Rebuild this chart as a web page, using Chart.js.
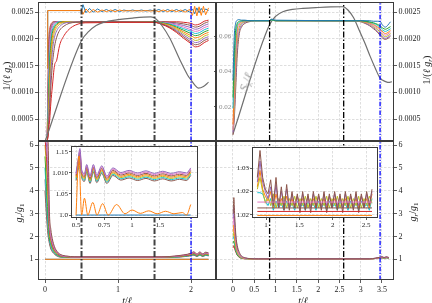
<!DOCTYPE html>
<html lang="en">
<head>
<meta charset="UTF-8">
<title>1/(l g_r) and g_r/g_1 versus t/l</title>
<script src="https://cdn.jsdelivr.net/npm/chart.js"></script>
<style>
    body { margin: 0; background: #fff; }
    #fig { position: relative; width: 432px; height: 303px; overflow: hidden; font-family: "Liberation Serif", serif; color: #222; }
    #fig canvas { position: absolute; left: 0; top: 0; }
    .lab { position: absolute; font-size: 10px; white-space: nowrap; line-height: 1; }
    .rot { transform: translate(-50%, -50%) rotate(-90deg); }
    .ctr { transform: translate(-50%, -50%); }
    .lab sub { font-size: 70%; vertical-align: -0.3em; line-height: 0; }
</style>
</head>
<body>
<div id="fig">
    <canvas id="tl" width="432" height="303"></canvas>
    <canvas id="tr" width="432" height="303"></canvas>
    <canvas id="bl" width="432" height="303"></canvas>
    <canvas id="br" width="432" height="303"></canvas>
    <canvas id="blInset" width="432" height="303"></canvas>
    <canvas id="brInset" width="432" height="303"></canvas>
    <div class="lab rot" style="left:7px;top:76px">1/(<i>ℓ g</i><sub><i>r</i></sub>)</div>
    <div class="lab rot" style="left:427px;top:70px">1/(<i>ℓ g</i><sub><i>r</i></sub>)</div>
    <div class="lab rot" style="left:19px;top:213px"><i>g</i><sub><i>r</i></sub>/<i>g</i><sub>1</sub></div>
    <div class="lab rot" style="left:413px;top:212px"><i>g</i><sub><i>r</i></sub>/<i>g</i><sub>1</sub></div>
    <div class="lab ctr" style="left:127px;top:301px"><i>t</i>/<i>ℓ</i></div>
    <div class="lab ctr" style="left:303px;top:301px"><i>t</i>/<i>ℓ</i></div>
    <div class="lab" style="left:246px;top:82px;color:#9a9a9a;font-size:12px;transform:translate(-50%,-50%) rotate(-72deg)"><i>S</i><sub>λ</sub>/<i>ℓ</i></div>
</div>
<script>
// ---- top left: 1/(l g_r) ----
const tlGrayT = [0, 0.5, 0.6, 0.7, 0.8, 1.0, 1.2, 1.45, 1.52, 1.6, 1.71, 1.85, 1.95, 2.0, 2.05, 2.1, 2.17, 2.24];
const tlGrayY = [0.00008, 0.00197, 0.00214, 0.00225, 0.00231, 0.00236, 0.00239, 0.00241, 0.00237, 0.00225, 0.00201, 0.0016, 0.00133, 0.00123, 0.00114, 0.00108, 0.00111, 0.00119];

const tlPairT = [0.03, 0.037, 0.5, 0.52, 0.56, 0.61, 0.66, 0.72, 0.78, 0.84, 0.9, 0.96, 1.02, 1.08, 1.14, 1.2, 1.26, 1.32, 1.38, 1.44, 1.5, 1.56, 1.62, 1.68, 1.74, 1.8, 1.86, 1.92, 1.98, 2.02, 2.05, 2.08, 2.11, 2.14, 2.17, 2.2, 2.24];
const tlBlueY = [0.00145, 0.00253, 0.00253, 0.00264, 0.00249, 0.00257, 0.0025, 0.00256, 0.00251, 0.00255, 0.00251, 0.00255, 0.00251, 0.00254, 0.00252, 0.00254, 0.00252, 0.00254, 0.00252, 0.00254, 0.00252, 0.00255, 0.00251, 0.00255, 0.00251, 0.00255, 0.00251, 0.00255, 0.0025, 0.00256, 0.00247, 0.00258, 0.00249, 0.00257, 0.0025, 0.00256, 0.00253];
const tlOrangeY = [0.00145, 0.00253, 0.00253, 0.00246, 0.00256, 0.00249, 0.00255, 0.0025, 0.00254, 0.00251, 0.00254, 0.00251, 0.00254, 0.00252, 0.00253, 0.00252, 0.00253, 0.00252, 0.00253, 0.00252, 0.00253, 0.00251, 0.00254, 0.00251, 0.00254, 0.00251, 0.00254, 0.0025, 0.00255, 0.00244, 0.00261, 0.00243, 0.0026, 0.00244, 0.00261, 0.00245, 0.00258];

const tlBundleT = [0.03, 0.04, 0.05, 0.065, 0.08, 0.1, 0.13, 0.16, 0.2, 0.26, 0.33, 0.42, 0.55, 1.5, 1.6, 1.7, 1.8, 1.9, 2.0, 2.06, 2.12, 2.18, 2.24];
const tlBundleY = [
    [0.0002, 0.0011, 0.0019, 0.00218, 0.00227, 0.00231, 0.00232, 0.00232, 0.00232, 0.00232, 0.00232, 0.00232, 0.00232, 0.00232, 0.00232, 0.00232, 0.00232, 0.00231, 0.00229, 0.00226, 0.00228, 0.00233, 0.00235],
    [0.0002, 0.0009, 0.0017, 0.00208, 0.00222, 0.00229, 0.00232, 0.00232, 0.00232, 0.00232, 0.00232, 0.00232, 0.00232, 0.00232, 0.00232, 0.00231, 0.0023, 0.00228, 0.00225, 0.00222, 0.00224, 0.00229, 0.00232],
    [0.0002, 0.0007, 0.0015, 0.00198, 0.00216, 0.00226, 0.00231, 0.00232, 0.00232, 0.00232, 0.00232, 0.00232, 0.00232, 0.00232, 0.00231, 0.0023, 0.00228, 0.00225, 0.00221, 0.00218, 0.0022, 0.00225, 0.00228],
    [0.0002, 0.0006, 0.0013, 0.00185, 0.00208, 0.00222, 0.00229, 0.00231, 0.00232, 0.00232, 0.00232, 0.00232, 0.00232, 0.00232, 0.00231, 0.00229, 0.00226, 0.00222, 0.00217, 0.00214, 0.00216, 0.00221, 0.00224],
    [0.00015, 0.0005, 0.0011, 0.0017, 0.00198, 0.00216, 0.00226, 0.0023, 0.00232, 0.00232, 0.00232, 0.00232, 0.00232, 0.00232, 0.0023, 0.00228, 0.00224, 0.00219, 0.00214, 0.0021, 0.00212, 0.00217, 0.0022],
    [0.00015, 0.0004, 0.0009, 0.00155, 0.00188, 0.0021, 0.00222, 0.00228, 0.00231, 0.00232, 0.00232, 0.00232, 0.00232, 0.00232, 0.0023, 0.00227, 0.00222, 0.00216, 0.0021, 0.00206, 0.00208, 0.00213, 0.00216],
    [0.00012, 0.0003, 0.0007, 0.0013, 0.00172, 0.00202, 0.00218, 0.00225, 0.0023, 0.00232, 0.00232, 0.00232, 0.00232, 0.00231, 0.00229, 0.00226, 0.0022, 0.00213, 0.00206, 0.00202, 0.00204, 0.00209, 0.00212],
    [0.0001, 0.00025, 0.0006, 0.0011, 0.00155, 0.0019, 0.00212, 0.00221, 0.00227, 0.00231, 0.00232, 0.00232, 0.00232, 0.00231, 0.00229, 0.00224, 0.00218, 0.0021, 0.00202, 0.00197, 0.00199, 0.00205, 0.00208],
    [0.0001, 0.0002, 0.0005, 0.0009, 0.00135, 0.00175, 0.00203, 0.00215, 0.00223, 0.00229, 0.00231, 0.00232, 0.00232, 0.00231, 0.00228, 0.00223, 0.00216, 0.00207, 0.00198, 0.00193, 0.00195, 0.00201, 0.00204],
    [0.0001, 0.0002, 0.0004, 0.0007, 0.0011, 0.0015, 0.00185, 0.00203, 0.00216, 0.00224, 0.00229, 0.00231, 0.00232, 0.00231, 0.00228, 0.00222, 0.00214, 0.00204, 0.00194, 0.00189, 0.00191, 0.00197, 0.002],
    [0.0001, 0.00015, 0.0003, 0.0005, 0.0008, 0.0011, 0.0015, 0.0016, 0.00188, 0.00206, 0.00218, 0.00226, 0.0023, 0.00231, 0.00227, 0.00221, 0.00212, 0.00201, 0.00191, 0.00185, 0.00187, 0.00193, 0.00197]
];
const tlBundleColors = ['#d62728', '#8c564b', '#9467bd', '#e377c2', '#17becf', '#2ca02c', '#ff7f0e', '#bcbd22', '#9467bd', '#8c564b', '#d62728'];

// ---- top right: 1/(l g_r) and S_lambda/l ----
const trGrayT = [0, 0.855, 1.0, 1.17, 1.4, 1.64, 2.0, 2.3, 2.58, 2.7, 2.83, 2.98, 3.1, 3.22, 3.34, 3.45, 3.52, 3.6, 3.66, 3.73];
const trGrayS = [0.0047, 0.0663, 0.0712, 0.0738, 0.0751, 0.0757, 0.0762, 0.0765, 0.0766, 0.0748, 0.0705, 0.0625, 0.056, 0.0487, 0.042, 0.0364, 0.035, 0.0341, 0.0338, 0.0343];

const trBundleT = [0, 0.03, 0.06, 0.1, 0.15, 0.2, 0.28, 0.38, 0.5, 0.85, 0.9, 1.0, 2.9, 3.0, 3.1, 3.2, 3.3, 3.4, 3.46, 3.52, 3.58, 3.64, 3.7];
const trBundleY = [
    [0.0002, 0.0005, 0.001, 0.0017, 0.0021, 0.00222, 0.00229, 0.00232, 0.00234, 0.00234, 0.00235, 0.00234, 0.00233, 0.00232, 0.00229, 0.00225, 0.00219, 0.00212, 0.00206, 0.00201, 0.00199, 0.00201, 0.00205],
    [0.00025, 0.0006, 0.0012, 0.0019, 0.00216, 0.00226, 0.00231, 0.00233, 0.00234, 0.00234, 0.00235, 0.00234, 0.00234, 0.00233, 0.0023, 0.00226, 0.00221, 0.00214, 0.00209, 0.00204, 0.00201, 0.00203, 0.00207],
    [0.0003, 0.0007, 0.0014, 0.00203, 0.00222, 0.00229, 0.00232, 0.00234, 0.00234, 0.00234, 0.00235, 0.00234, 0.00234, 0.00233, 0.00231, 0.00228, 0.00223, 0.00217, 0.00212, 0.00207, 0.00204, 0.00206, 0.0021],
    [0.0003, 0.0009, 0.0016, 0.00212, 0.00226, 0.00231, 0.00233, 0.00234, 0.00234, 0.00234, 0.00235, 0.00234, 0.00234, 0.00233, 0.00232, 0.00229, 0.00225, 0.0022, 0.00215, 0.0021, 0.00207, 0.00209, 0.00213],
    [0.0004, 0.0011, 0.0018, 0.0022, 0.00229, 0.00232, 0.00234, 0.00234, 0.00234, 0.00234, 0.00235, 0.00234, 0.00234, 0.00233, 0.00232, 0.0023, 0.00227, 0.00222, 0.00218, 0.00213, 0.0021, 0.00212, 0.00216],
    [0.0007, 0.0014, 0.002, 0.00225, 0.00231, 0.00233, 0.00234, 0.00234, 0.00234, 0.00234, 0.00235, 0.00234, 0.00234, 0.00234, 0.00233, 0.00231, 0.00229, 0.00225, 0.00221, 0.00216, 0.00214, 0.00216, 0.00219],
    [0.0009, 0.0017, 0.00215, 0.00229, 0.00233, 0.00234, 0.00234, 0.00234, 0.00234, 0.00234, 0.00236, 0.00234, 0.00234, 0.00234, 0.00233, 0.00232, 0.0023, 0.00227, 0.00224, 0.0022, 0.00218, 0.0022, 0.00223],
    [0.00122, 0.00205, 0.00228, 0.00235, 0.00236, 0.00235, 0.00235, 0.00234, 0.00234, 0.00234, 0.00237, 0.00235, 0.00234, 0.00234, 0.00234, 0.00234, 0.00233, 0.00233, 0.00232, 0.00225, 0.00222, 0.00226, 0.00232]
];
const trBundleColors = ['#8c564b', '#9467bd', '#bcbd22', '#e377c2', '#ff7f0e', '#17becf', '#2ca02c', '#1f77b4'];

// ---- bottom left: g_r/g_1 ----
const blBundleT = [0, 0.02, 0.04, 0.06, 0.08, 0.1, 0.13, 0.17, 0.22, 0.3, 0.4, 0.5, 1.0, 1.5, 1.7, 1.85, 1.95, 2.0, 2.04, 2.08, 2.12, 2.16, 2.2, 2.24];
const blBundleY = [
    [4.0, 2.9, 2.1, 1.7, 1.45, 1.33, 1.22, 1.13, 1.09, 1.085, 1.085, 1.085, 1.085, 1.085, 1.09, 1.1, 1.13, 1.16, 1.18, 1.12, 1.18, 1.12, 1.17, 1.15],
    [4.5, 3.3, 2.3, 1.8, 1.5, 1.38, 1.25, 1.15, 1.1, 1.088, 1.087, 1.087, 1.087, 1.087, 1.093, 1.11, 1.14, 1.17, 1.2, 1.13, 1.19, 1.13, 1.18, 1.16],
    [5.0, 3.8, 2.6, 1.9, 1.6, 1.42, 1.28, 1.17, 1.11, 1.09, 1.09, 1.089, 1.089, 1.089, 1.096, 1.11, 1.15, 1.18, 1.21, 1.14, 1.2, 1.14, 1.19, 1.17],
    [5.5, 4.3, 3.0, 2.0, 1.7, 1.5, 1.32, 1.2, 1.12, 1.1, 1.093, 1.092, 1.092, 1.092, 1.1, 1.12, 1.16, 1.19, 1.23, 1.15, 1.22, 1.15, 1.21, 1.18],
    [6.0, 5.0, 3.6, 2.2, 1.8, 1.55, 1.35, 1.22, 1.13, 1.1, 1.095, 1.095, 1.095, 1.095, 1.104, 1.13, 1.17, 1.21, 1.25, 1.17, 1.24, 1.17, 1.23, 1.2],
    [6.3, 5.5, 4.2, 2.4, 1.9, 1.62, 1.4, 1.24, 1.15, 1.11, 1.1, 1.098, 1.098, 1.098, 1.108, 1.14, 1.18, 1.22, 1.27, 1.18, 1.26, 1.19, 1.25, 1.22],
    [6.6, 6.0, 4.8, 2.6, 2.0, 1.7, 1.45, 1.27, 1.16, 1.12, 1.1, 1.101, 1.101, 1.101, 1.112, 1.15, 1.2, 1.24, 1.29, 1.2, 1.28, 1.2, 1.27, 1.24],
    [6.6, 6.4, 5.6, 2.8, 2.1, 1.8, 1.5, 1.3, 1.18, 1.13, 1.105, 1.104, 1.104, 1.104, 1.116, 1.16, 1.21, 1.25, 1.31, 1.21, 1.3, 1.22, 1.29, 1.26],
    [6.6, 6.6, 6.3, 3.1, 2.3, 1.9, 1.55, 1.32, 1.2, 1.14, 1.11, 1.107, 1.107, 1.107, 1.12, 1.17, 1.22, 1.27, 1.33, 1.23, 1.32, 1.24, 1.31, 1.28]
];
const blBundleColors = ['#8c564b', '#7f7f7f', '#17becf', '#2ca02c', '#bcbd22', '#d62728', '#9467bd', '#e377c2', '#8c564b'];
const blFlatT = [0, 2.24];
const blFlatY = [1, 1];

// inset of bottom left (u runs over the inset's own tick positions)
const blInsetTicks = ['0.5', '0.75', '1', '1.5'];
const blInsetYTicks = ['1.0', '1.05', '1.010', '1.15'];
const blInsetU = [0, 0.07, 0.14, 0.2, 0.3, 0.38, 0.5, 0.62, 0.74, 0.92, 1.1, 1.32, 1.6, 1.9, 2.2, 2.5, 2.8, 3.1, 3.4, 3.7, 3.95, 4.1];
const blInsetY = [
    [1.082, 1.106, 1.128, 1.09, 1.08, 1.102, 1.075, 1.102, 1.077, 1.099, 1.075, 1.094, 1.083, 1.088, 1.082, 1.087, 1.081, 1.086, 1.081, 1.085, 1.082, 1.094],
    [1.085, 1.11, 1.133, 1.093, 1.083, 1.105, 1.078, 1.105, 1.08, 1.102, 1.078, 1.097, 1.086, 1.091, 1.085, 1.09, 1.084, 1.089, 1.084, 1.088, 1.085, 1.097],
    [1.088, 1.114, 1.138, 1.096, 1.086, 1.108, 1.081, 1.108, 1.083, 1.105, 1.081, 1.1, 1.089, 1.094, 1.088, 1.093, 1.087, 1.092, 1.087, 1.091, 1.088, 1.1],
    [1.091, 1.118, 1.143, 1.099, 1.089, 1.111, 1.084, 1.111, 1.086, 1.108, 1.084, 1.103, 1.092, 1.097, 1.091, 1.096, 1.09, 1.095, 1.09, 1.094, 1.091, 1.103],
    [1.094, 1.122, 1.148, 1.102, 1.092, 1.114, 1.087, 1.114, 1.089, 1.111, 1.087, 1.106, 1.095, 1.1, 1.094, 1.099, 1.093, 1.098, 1.093, 1.097, 1.094, 1.106],
    [1.097, 1.126, 1.153, 1.105, 1.095, 1.117, 1.09, 1.117, 1.092, 1.114, 1.09, 1.109, 1.098, 1.103, 1.097, 1.102, 1.096, 1.101, 1.096, 1.1, 1.097, 1.109],
    [1.1, 1.13, 1.158, 1.108, 1.098, 1.12, 1.093, 1.12, 1.095, 1.117, 1.093, 1.112, 1.101, 1.106, 1.1, 1.105, 1.099, 1.104, 1.099, 1.103, 1.1, 1.112]
];
const blInsetColors = ['#8c564b', '#17becf', '#bcbd22', '#ff7f0e', '#8c564b', '#e377c2', '#9467bd'];
const blInsetOrangeU = [0, 0.1, 0.2, 0.3, 0.42, 0.6, 0.75, 0.95, 1.15, 1.45, 1.75, 2.0, 2.3, 2.6, 2.9, 3.2, 3.5, 3.8, 3.95, 4.1];
const blInsetOrangeY = [1.0, 1.14, 1.0, 1.04, 1.0, 1.03, 1.0, 1.027, 1.0, 1.025, 1.003, 1.012, 1.004, 1.01, 1.003, 1.009, 1.003, 1.006, 1.0, 1.025];
const blInsetBlueU = [0, 4.1];
const blInsetBlueY = [1, 1];

// ---- bottom right: g_r/g_1 ----
const brBundleT = [0.005, 0.02, 0.04, 0.07, 0.1, 0.15, 0.2, 0.3, 0.4, 0.6, 3.2, 3.35, 3.45, 3.5, 3.55, 3.6, 3.66];
const brBundleY = [
    [1.5, 1.6, 1.45, 1.3, 1.18, 1.08, 1.04, 1.02, 1.017, 1.016, 1.016, 1.03, 1.05, 1.06, 1.05, 1.06, 1.05],
    [1.7, 1.8, 1.6, 1.35, 1.2, 1.1, 1.05, 1.025, 1.02, 1.018, 1.018, 1.035, 1.06, 1.07, 1.05, 1.07, 1.05],
    [1.9, 2.0, 1.7, 1.4, 1.25, 1.12, 1.06, 1.03, 1.02, 1.018, 1.018, 1.035, 1.06, 1.08, 1.05, 1.07, 1.06],
    [2.0, 2.2, 1.85, 1.5, 1.3, 1.15, 1.07, 1.03, 1.02, 1.018, 1.018, 1.04, 1.07, 1.08, 1.06, 1.08, 1.06],
    [2.2, 2.5, 2.0, 1.6, 1.35, 1.17, 1.08, 1.035, 1.02, 1.015, 1.015, 1.04, 1.07, 1.09, 1.06, 1.08, 1.07],
    [2.5, 2.9, 2.3, 1.75, 1.42, 1.2, 1.1, 1.04, 1.025, 1.02, 1.02, 1.04, 1.08, 1.09, 1.07, 1.09, 1.07],
    [2.8, 3.3, 2.6, 1.9, 1.5, 1.25, 1.12, 1.05, 1.03, 1.02, 1.02, 1.05, 1.08, 1.1, 1.07, 1.1, 1.07],
    [3.0, 3.7, 2.9, 2.0, 1.6, 1.3, 1.15, 1.06, 1.03, 1.02, 1.02, 1.05, 1.09, 1.11, 1.08, 1.11, 1.08]
];
const brBundleColors = ['#d62728', '#2ca02c', '#17becf', '#bcbd22', '#ff7f0e', '#e377c2', '#9467bd', '#8c564b'];

// inset of bottom right
const brInsetYTicks = ['1.02', '1.02', '1.03'];
const brInsetT = [0.87, 0.91, 0.95, 0.99, 1.03, 1.07, 1.11, 1.15, 1.19, 1.23, 1.27, 1.31, 1.35, 1.39, 1.43, 1.47, 1.51, 1.55, 1.59, 1.63, 1.67, 1.71, 1.75, 1.79, 1.83, 1.87, 1.91, 1.95, 1.99, 2.03, 2.07, 2.11, 2.15, 2.19, 2.23, 2.27, 2.31, 2.35, 2.39, 2.43, 2.47, 2.51, 2.55, 2.59];
const brInsetNoisy = [
    [1.0245, 1.0245, 1.024, 1.021, 1.019, 1.022, 1.017, 1.021, 1.018, 1.02, 1.017, 1.021, 1.018, 1.02, 1.017, 1.021, 1.018, 1.02, 1.017, 1.021, 1.018, 1.02, 1.017, 1.021, 1.018, 1.02, 1.017, 1.021, 1.018, 1.02, 1.017, 1.021, 1.018, 1.02, 1.017, 1.021, 1.018, 1.02, 1.017, 1.021, 1.018, 1.02, 1.017, 1.022],
    [1.027, 1.034, 1.026, 1.023, 1.021, 1.025, 1.018, 1.024, 1.019, 1.022, 1.018, 1.023, 1.019, 1.022, 1.018, 1.023, 1.019, 1.022, 1.018, 1.023, 1.019, 1.022, 1.018, 1.023, 1.019, 1.022, 1.018, 1.023, 1.019, 1.022, 1.018, 1.023, 1.019, 1.022, 1.018, 1.023, 1.019, 1.022, 1.018, 1.023, 1.019, 1.022, 1.018, 1.024],
    [1.026, 1.031, 1.025, 1.02, 1.023, 1.019, 1.024, 1.018, 1.022, 1.019, 1.023, 1.018, 1.022, 1.019, 1.023, 1.018, 1.022, 1.019, 1.023, 1.018, 1.022, 1.019, 1.023, 1.018, 1.022, 1.019, 1.023, 1.018, 1.022, 1.019, 1.023, 1.018, 1.022, 1.019, 1.023, 1.018, 1.022, 1.019, 1.023, 1.018, 1.022, 1.019, 1.023, 1.02],
    [1.029, 1.038, 1.029, 1.025, 1.022, 1.027, 1.019, 1.028, 1.018, 1.025, 1.019, 1.026, 1.018, 1.024, 1.019, 1.023, 1.018, 1.024, 1.019, 1.023, 1.018, 1.024, 1.019, 1.023, 1.018, 1.024, 1.019, 1.023, 1.018, 1.024, 1.019, 1.023, 1.018, 1.024, 1.019, 1.023, 1.018, 1.024, 1.019, 1.023, 1.018, 1.024, 1.019, 1.025],
    [1.031, 1.0425, 1.031, 1.026, 1.024, 1.03, 1.019, 1.031, 1.018, 1.027, 1.017, 1.028, 1.017, 1.025, 1.018, 1.024, 1.016, 1.025, 1.017, 1.024, 1.016, 1.025, 1.018, 1.024, 1.017, 1.025, 1.016, 1.024, 1.018, 1.025, 1.017, 1.024, 1.016, 1.025, 1.018, 1.024, 1.017, 1.025, 1.016, 1.024, 1.018, 1.025, 1.019, 1.026]
];
const brInsetNoisyColors = ['#17becf', '#ff7f0e', '#bcbd22', '#9467bd', '#8c564b'];
const brInsetFlatT = [0.87, 2.59];
const brInsetFlatLevels = [1.0205, 1.018, 1.0165, 1.0148];
const brInsetFlatColors = ['#e377c2', '#8c564b', '#d62728', '#ff7f0e'];

// ---- shared tick values ----
const recipTicks = [0.0005, 0.001, 0.0015, 0.002, 0.0025];
const recipLabels = ['0.0005', '0.0010', '0.0015', '0.0020', '0.0025'];
const ratioTicks = [1, 2, 3, 4, 5, 6];
const ratioLabels = ['1', '2', '3', '4', '5', '6'];
const leftXTicks = [0, 1, 2];
const rightXTicks = [0, 0.5, 1, 1.5, 2, 2.5, 3, 3.5];
const sTicks = [0.02, 0.04, 0.06];

const W = 432, H = 303;
const GRID = '#d6d6d6';
const INK = '#333';

function pts(xs, ys) {
    return xs.map(function (x, i) { return { x: x, y: ys[i] }; });
}
function line(xs, ys, color, width, axisId, sharp) {
    return {
        data: pts(xs, ys), borderColor: color, borderWidth: width || 1, pointRadius: 0,
        cubicInterpolationMode: sharp ? 'default' : 'monotone', tension: 0, yAxisID: axisId || 'y'
    };
}
function vline(x, range, color, width, dash) {
    return { data: [{ x: x, y: range[0] }, { x: x, y: range[1] }], borderColor: color, borderWidth: width, borderDash: dash, pointRadius: 0, yAxisID: 'y' };
}
// every axis gets a fixed thickness ("room"); the chart area is then set by layout padding
function axis(position, range, values, labels, o) {
    o = o || {};
    const room = o.room != null ? o.room : 30;
    return {
        type: 'linear', position: position, min: range[0], max: range[1], room: room,
        afterBuildTicks: function (s) { s.ticks = values.map(function (v) { return { value: v }; }); },
        afterFit: function (s) {
            if (s.isHorizontal()) s.height = room; else s.width = room;
            s.paddingLeft = 0; s.paddingRight = 0; s.paddingTop = 0; s.paddingBottom = 0;
        },
        grid: { drawOnChartArea: o.grid !== false, color: GRID, lineWidth: 0.8, drawTicks: !!labels, tickLength: o.tickLength || 3, tickColor: INK, tickWidth: 0.8 },
        border: { display: false, dash: [2.5, 1.5] },
        ticks: {
            display: !!labels, mirror: !!o.mirror, padding: o.padding != null ? o.padding : 1.5,
            color: o.color || '#222', font: { family: 'Liberation Serif', size: o.size || 8 },
            autoSkip: false, maxRotation: 0,
            callback: function (v, i) { return labels ? labels[i] : ''; }
        }
    };
}
const framePlugin = {
    id: 'frame',
    beforeDraw: function (chart, args, opts) {
        if (!opts.bg) return;
        const a = chart.chartArea;
        chart.ctx.save();
        chart.ctx.fillStyle = opts.bg;
        chart.ctx.fillRect(a.left, a.top, a.right - a.left, a.bottom - a.top);
        chart.ctx.restore();
    },
    afterDraw: function (chart) {
        const a = chart.chartArea, ctx = chart.ctx;
        ctx.save();
        ctx.strokeStyle = '#3a3a3a';
        ctx.lineWidth = 1;
        ctx.strokeRect(Math.round(a.left) + 0.5, Math.round(a.top) + 0.5, Math.round(a.right - a.left) - 1, Math.round(a.bottom - a.top) - 1);
        ctx.restore();
    }
};
function panel(id, area, scales, layers, bg) {
    const side = { left: 0, right: 0, top: 0, bottom: 0 };
    Object.keys(scales).forEach(function (k) { side[scales[k].position] += scales[k].room; });
    return new Chart(document.getElementById(id), {
        type: 'line',
        data: { datasets: layers.slice().reverse() },
        options: {
            responsive: false, animation: false, events: [],
            layout: { padding: { left: area[0] - side.left, top: area[1] - side.top, right: W - area[2] - side.right, bottom: H - area[3] - side.bottom } },
            plugins: { legend: { display: false }, tooltip: { enabled: false }, frame: { bg: bg || null } },
            scales: scales
        },
        plugins: [framePlugin]
    });
}

const DASH_K = [6, 2, 1.5, 2];
const DASH_B = [4.5, 1.5, 1.2, 1.5];
const leftX = [-0.096, 2.342];
const rightX = [-0.399, 3.782];
const recipY = [0.000089, 0.00269];
const ratioY = [0.094, 6.175];

// top left
let layers = [];
tlBundleY.forEach(function (ys, k) { layers.push(line(tlBundleT, ys, tlBundleColors[k])); });
layers.push(line(tlGrayT, tlGrayY, '#6f6f6f', 1.2));
layers.push(line(tlPairT, tlBlueY, '#1f77b4', 1, 'y', true));
layers.push(line(tlPairT, tlOrangeY, '#ff7f0e', 1, 'y', true));
layers.push(vline(0.5, recipY, 'rgba(45,45,45,0.9)', 2, DASH_K));
layers.push(vline(1.5, recipY, 'rgba(45,45,45,0.9)', 2, DASH_K));
layers.push(vline(2.0, recipY, '#0000ff', 1.3, DASH_B));
panel('tl', [38, 2, 216, 141], {
    x: axis('bottom', leftX, leftXTicks, null, { room: 20 }),
    y: axis('left', recipY, recipTicks, recipLabels, { room: 34 })
}, layers);

// top right
layers = [line(trGrayT, trGrayS, '#6f6f6f', 1.2, 'y2')];
trBundleY.forEach(function (ys, k) { layers.push(line(trBundleT, ys, trBundleColors[k])); });
layers.push(vline(0.86, recipY, '#000', 1.3, DASH_K));
layers.push(vline(2.6, recipY, '#000', 1.3, DASH_K));
layers.push(vline(3.455, recipY, '#0000ff', 1.3, DASH_B));
panel('tr', [216, 2, 394, 141], {
    x: axis('bottom', rightX, rightXTicks, null, { room: 20 }),
    y: axis('right', recipY, recipTicks, recipLabels, { room: 34 }),
    y2: axis('left', [0.0007, 0.0793], sTicks, ['0.02', '0.04', '0.06'], { room: 4, grid: false, mirror: true, padding: 3, size: 7, color: '#8a8a8a', tickLength: 2 })
}, layers);

// bottom left
layers = [line(blFlatT, blFlatY, '#1f77b4')];
blBundleY.forEach(function (ys, k) { layers.push(line(blBundleT, ys, blBundleColors[k])); });
layers.push(line(blFlatT, blFlatY, '#ff7f0e'));
layers.push(vline(0.5, ratioY, 'rgba(45,45,45,0.9)', 2, DASH_K));
layers.push(vline(1.5, ratioY, 'rgba(45,45,45,0.9)', 2, DASH_K));
layers.push(vline(2.0, ratioY, '#0000ff', 1.3, DASH_B));
panel('bl', [38, 141, 216, 280], {
    x: axis('bottom', leftX, leftXTicks, ['0', '1', '2'], { padding: 2, room: 16 }),
    y: axis('left', ratioY, ratioTicks, ratioLabels, { room: 30 })
}, layers);

// bottom right
layers = [];
brBundleY.forEach(function (ys, k) { layers.push(line(brBundleT, ys, brBundleColors[k])); });
layers.push(vline(0.86, ratioY, '#000', 1.3, DASH_K));
layers.push(vline(2.6, ratioY, '#000', 1.3, DASH_K));
layers.push(vline(3.455, ratioY, '#0000ff', 1.3, DASH_B));
panel('br', [216, 141, 394, 280], {
    x: axis('bottom', rightX, rightXTicks, ['0', '0.5', '1', '1.5', '2', '2.5', '3', '3.5'], { padding: 2, room: 16 }),
    y: axis('right', ratioY, ratioTicks, ratioLabels, { room: 30 })
}, layers);

// inset bottom left
layers = [line(blInsetBlueU, blInsetBlueY, '#1f77b4')];
blInsetY.forEach(function (ys, k) { layers.push(line(blInsetU, ys, blInsetColors[k])); });
layers.push(line(blInsetOrangeU, blInsetOrangeY, '#ff7f0e'));
panel('blInset', [71, 146, 198, 218], {
    x: axis('bottom', [-0.18, 4.36], [0, 1, 2, 3], blInsetTicks, { size: 7, tickLength: 2, padding: 1, room: 12 }),
    y: axis('left', [0.993, 1.164], [1.0, 1.05, 1.1, 1.15], blInsetYTicks, { size: 7, tickLength: 2, padding: 1, room: 22 })
}, layers, '#fff');

// inset bottom right
layers = [];
brInsetNoisy.forEach(function (ys, k) { layers.push(line(brInsetT, ys, brInsetNoisyColors[k], 1, 'y', true)); });
brInsetFlatLevels.forEach(function (v, k) { layers.push(line(brInsetFlatT, [v, v], brInsetFlatColors[k])); });
panel('brInset', [252, 147, 378, 218], {
    x: axis('bottom', [0.79, 2.68], [1, 1.5, 2, 2.5], ['1', '1.5', '2', '2.5'], { size: 7, tickLength: 2, padding: 1, room: 12 }),
    y: axis('left', [1.0137, 1.044], [1.015, 1.025, 1.035], brInsetYTicks, { size: 7, tickLength: 2, padding: 1, room: 22 })
}, layers, '#fff');
</script>
</body>
</html>
